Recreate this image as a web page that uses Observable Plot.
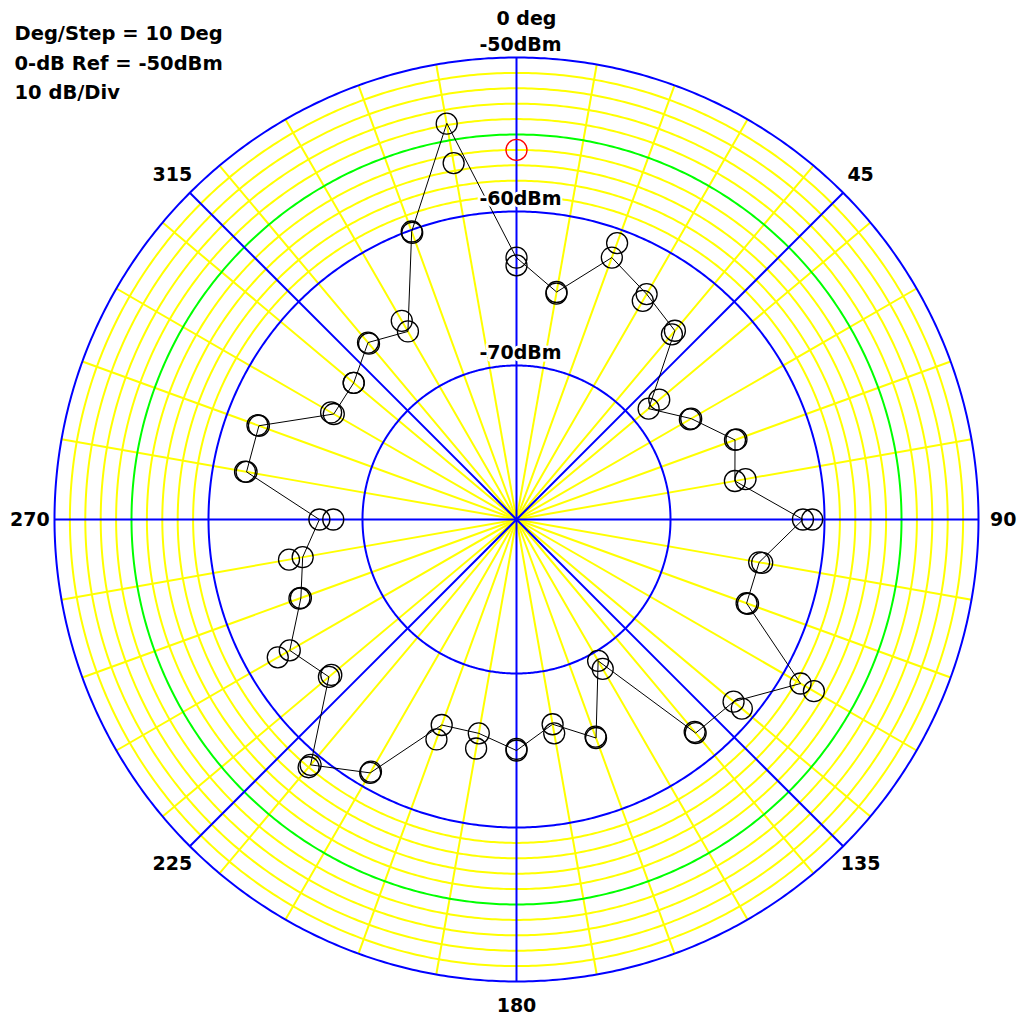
<!DOCTYPE html>
<html>
<head>
<meta charset="utf-8">
<script src="https://cdn.jsdelivr.net/npm/d3@7"></script>
<script src="https://cdn.jsdelivr.net/npm/@observablehq/plot@0.6"></script>
<style>
  html, body { margin: 0; padding: 0; background: #ffffff; }
  #chart svg { display: block; }
</style>
</head>
<body>
<div id="chart"></div>
<script>
// Azimuth of each measurement step, degrees clockwise from 0 deg at the top
const stepAngles = [0, 10, 20, 30, 40, 50, 60, 70, 80, 90, 100, 110, 120, 130, 140, 150, 160, 170,
                    180, 190, 200, 210, 220, 230, 240, 250, 260, 270, 280, 290, 300, 310, 320, 330, 340, 350];
// Level of the first sweep at each step (dBm); this sweep is joined by the trace
const sweepA = [-63.0, -65.0, -61.9, -63.1, -64.0, -68.8, -66.9, -64.9, -65.6, -61.4, -64.0, -64.1,
                -58.7, -61.6, -61.9, -69.4, -64.9, -66.5, -65.0, -65.9, -65.8, -61.0, -59.2, -64.1,
                -63.0, -65.1, -65.9, -67.2, -62.2, -62.2, -66.3, -66.2, -65.0, -65.9, -60.1, -53.9];
// Level of the second sweep at each step (dBm)
const sweepB = [-63.5, -65.1, -60.9, -63.6, -64.3, -67.9, -67.0, -64.8, -64.9, -60.8, -63.8, -64.0,
                -57.7, -60.9, -62.0, -68.8, -65.0, -65.9, -65.1, -64.9, -64.8, -61.1, -59.0, -64.3,
                -62.1, -65.0, -65.0, -68.1, -62.1, -62.1, -66.1, -66.2, -65.1, -65.1, -60.2, -56.5];
// Reference marker
const markerAngles = [0];
const markerLevels = [-56.0];

// Grid definition
const refLevel = -50;       // 0-dB reference, outer ring
const dbPerDiv = 10;
const divisions = 3;
const centerLevel = refLevel - dbPerDiv * divisions;   // -80 dBm at the centre
const majorRings = [-50, -60, -70];
const minorRings = [-59, -58, -57, -56, -54, -53, -52, -51];
const midRings = [-55];
const spokeAngles = [10, 20, 30, 40, 50, 60, 70, 80, 100, 110, 120, 130, 140, 150, 160, 170,
                     190, 200, 210, 220, 230, 240, 250, 260, 280, 290, 300, 310, 320, 330, 340, 350];
const axisAngles = [0, 45, 90, 135, 180, 225, 270, 315];

// Labels
const compassAngles = [45, 90, 135, 180, 225, 270, 315];
const compassLabels = ["45", "90", "135", "180", "225", "270", "315"];
const topLabel = "0 deg";
const ringLabelLevels = [-50, -60, -70];
const ringLabels = ["-50dBm", "-60dBm", "-70dBm"];
const infoLines = ["Deg/Step = 10 Deg", "0-dB Ref = -50dBm", "10 dB/Div"];

// Polar layout on an azimuthal-equidistant projection centred on the pole:
// longitude carries the bearing, latitude carries the level.
const lon = (a) => 180 - a;
const lat = (db) => 90 - (db - centerLevel);
const labelLevel = -48.4;

const ring = (db) => d3.geoCircle().center([0, 90]).radius(db - centerLevel).precision(0.5)();
const minorGeo = minorRings.map(ring);
const midGeo = midRings.map(ring);
const majorGeo = majorRings.map(ring);

const BLUE = "#0000ff", YELLOW = "#ffff00", GREEN = "#00ff00", RED = "#ff0000";
const FONT = "DejaVu Sans";
const FS = 19;

const chart = Plot.plot({
  width: 1017,
  height: 1018,
  marginLeft: 54,
  marginRight: 39,
  marginTop: 57,
  marginBottom: 37,
  projection: {
    type: "azimuthal-equidistant",
    rotate: [0, -90],
    domain: d3.geoCircle().center([0, 90]).radius(refLevel - centerLevel)(),
    clip: false
  },
  style: {background: "#ffffff", fontFamily: FONT},
  marks: [
    // spokes every 10 deg
    Plot.link(spokeAngles, {x1: (a) => lon(a), y1: 90, x2: (a) => lon(a), y2: lat(refLevel),
      stroke: YELLOW, strokeWidth: 2}),
    // 1 dB rings in the top division
    Plot.geo(minorGeo, {fill: "none", stroke: YELLOW, strokeWidth: 2}),
    Plot.geo(midGeo, {fill: "none", stroke: GREEN, strokeWidth: 2}),
    // division rings
    Plot.geo(majorGeo, {fill: "none", stroke: BLUE, strokeWidth: 2}),
    // diameters every 45 deg
    Plot.link(axisAngles, {x1: (a) => lon(a), y1: 90, x2: (a) => lon(a), y2: lat(refLevel),
      stroke: BLUE, strokeWidth: 2}),
    // trace through the first sweep
    Plot.line(stepAngles, {x: (a) => lon(a), y: (a, i) => lat(sweepA[i]),
      curve: "linear-closed", stroke: "#000000", strokeWidth: 1}),
    // measurement markers
    Plot.dot(stepAngles, {x: (a) => lon(a), y: (a, i) => lat(sweepA[i]),
      r: 10.5, fill: "none", stroke: "#000000", strokeWidth: 1.3}),
    Plot.dot(stepAngles, {x: (a) => lon(a), y: (a, i) => lat(sweepB[i]),
      r: 10.5, fill: "none", stroke: "#000000", strokeWidth: 1.3}),
    Plot.dot(markerAngles, {x: (a) => lon(a), y: (a, i) => lat(markerLevels[i]),
      r: 10.5, fill: "none", stroke: RED, strokeWidth: 1.3}),
    // ring level labels
    Plot.text(ringLabelLevels, {x: lon(0), y: (d) => lat(d), text: (d, i) => ringLabels[i],
      dx: 4, dy: -12.5, fontSize: FS, fontWeight: "bold", fill: "#000000",
      stroke: "#ffffff", strokeWidth: 5, textAnchor: "middle", lineAnchor: "middle"}),
    // bearing labels
    Plot.text(compassAngles, {x: (a) => lon(a), y: lat(labelLevel), text: (a, i) => compassLabels[i],
      fontSize: FS, fontWeight: "bold", fill: "#000000", textAnchor: "middle", lineAnchor: "middle"}),
    Plot.text([topLabel], {x: lon(0), y: lat(refLevel), text: (d) => d,
      dx: 10, dy: -38.5, fontSize: FS, fontWeight: "bold", fill: "#000000",
      textAnchor: "middle", lineAnchor: "middle"}),
    // settings block
    Plot.text([infoLines.join("\n")], {frameAnchor: "top-left", text: (d) => d,
      dx: -40, dy: -38, fontSize: FS + 0.5, fontWeight: "bold", fill: "#000000",
      textAnchor: "start", lineAnchor: "top", lineHeight: 1.5})
  ]
});

document.getElementById("chart").appendChild(chart);
</script>
</body>
</html>
